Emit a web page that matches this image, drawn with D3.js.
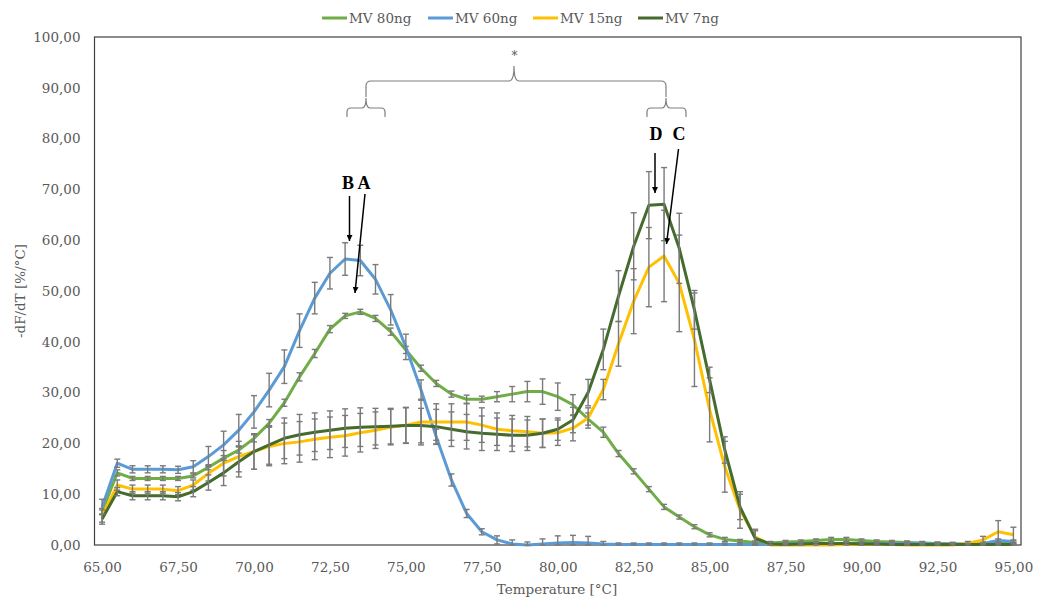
<!DOCTYPE html>
<html><head><meta charset="utf-8">
<script src="https://cdn.jsdelivr.net/npm/d3@7"></script>
<style>body{margin:0;background:#fff} svg{display:block}</style>
</head><body>
<svg id="c" width="1037" height="598"></svg>
<script>
const temperatures = [65.0,65.5,66.0,66.5,67.0,67.5,68.0,68.5,69.0,69.5,70.0,70.5,71.0,71.5,72.0,72.5,73.0,73.5,74.0,74.5,75.0,75.5,76.0,76.5,77.0,77.5,78.0,78.5,79.0,79.5,80.0,80.5,81.0,81.5,82.0,82.5,83.0,83.5,84.0,84.5,85.0,85.5,86.0,86.5,87.0,87.5,88.0,88.5,89.0,89.5,90.0,90.5,91.0,91.5,92.0,92.5,93.0,93.5,94.0,94.5,95.0];
const tickTemps = [65.0,67.5,70.0,72.5,75.0,77.5,80.0,82.5,85.0,87.5,90.0,92.5,95.0];
const tickLabelsX = ["65,00","67,50","70,00","72,50","75,00","77,50","80,00","82,50","85,00","87,50","90,00","92,50","95,00"];
const tickValuesY = [0,10,20,30,40,50,60,70,80,90,100];
const tickLabelsY = ["0,00","10,00","20,00","30,00","40,00","50,00","60,00","70,00","80,00","90,00","100,00"];
const seriesNames = ["MV 80ng","MV 60ng","MV 15ng","MV 7ng"];
const seriesColors = ["#70AD47","#5B9BD5","#FFC000","#456B2D"];

const mv80 = [6.6,14.2,13.1,13.1,13.1,13.1,13.6,15.3,17.1,18.7,21.0,24.0,28.0,33.1,37.7,42.5,45.1,45.9,44.6,42.0,38.4,34.8,31.8,29.7,28.7,28.7,29.2,29.7,30.2,30.2,29.2,27.6,24.8,22.2,18.0,14.5,11.0,7.5,5.5,3.6,2.0,1.1,0.8,0.5,0.4,0.6,0.7,0.9,1.1,1.1,0.9,0.7,0.6,0.5,0.4,0.3,0.2,0.1,0.2,0.6,0.5];
const mv80Err = [0.6,0.6,0.4,0.4,0.4,0.4,0.4,0.5,0.5,0.6,0.7,0.7,0.7,0.8,0.8,0.7,0.5,0.5,0.6,0.7,0.7,0.6,0.6,0.6,0.8,0.6,1.0,1.5,2.0,2.5,2.7,2.0,1.2,1.0,0.6,0.5,0.5,0.5,0.4,0.4,0.4,0.4,0.3,0.3,0.3,0.3,0.3,0.3,0.4,0.4,0.3,0.3,0.3,0.3,0.3,0.3,0.3,0.3,0.3,0.3,0.3];
const mv60 = [7.5,16.1,14.9,14.9,14.9,14.8,15.4,17.4,19.7,22.6,26.2,30.5,35.1,42.2,48.6,53.5,56.3,56.0,52.3,46.3,39.0,30.5,21.3,12.8,6.2,2.6,1.0,0.2,0.0,0.2,0.4,0.5,0.4,0.2,0.1,0.1,0.1,0.1,0.1,0.1,0.1,0.1,0.1,0.1,0.1,0.2,0.3,0.3,0.3,0.3,0.3,0.3,0.3,0.3,0.3,0.2,0.2,0.2,0.3,0.9,0.7];
const mv60Err = [1.5,0.8,0.7,0.7,0.7,0.7,1.2,2.0,2.7,3.1,3.2,3.3,3.3,3.3,3.1,3.1,3.2,3.0,2.9,3.0,2.5,2.0,1.5,1.2,0.8,0.6,0.8,0.8,0.6,1.0,1.4,1.4,1.3,0.5,0.3,0.3,0.3,0.3,0.3,0.3,0.3,0.3,0.3,0.3,0.3,0.3,0.3,0.3,0.3,0.3,0.3,0.3,0.3,0.3,0.3,0.3,0.3,0.3,0.3,0.3,0.3];
const mv15 = [5.7,11.8,11.0,11.0,11.0,10.7,11.8,14.1,16.1,17.4,18.4,19.4,20.0,20.3,20.8,21.2,21.5,22.1,22.6,23.2,23.6,24.2,24.2,24.2,24.2,23.6,22.8,22.5,22.3,22.0,22.1,23.0,25.0,30.6,39.6,48.0,54.7,56.9,51.5,40.4,26.6,15.4,6.9,1.6,0.0,0.0,0.0,0.0,0.0,0.1,0.1,0.1,0.1,0.0,0.0,0.0,0.0,0.3,1.0,2.6,2.0];
const mv15Err = [1.2,1.0,0.8,0.8,0.8,0.8,1.0,1.5,2.5,3.0,3.5,3.8,4.0,4.0,4.0,4.0,4.0,3.8,3.6,3.5,3.5,4.5,3.6,3.6,3.6,3.4,3.2,3.0,3.0,2.8,2.5,2.5,2.0,2.0,4.4,6.4,7.8,9.0,9.5,9.2,6.3,5.0,3.6,1.5,0.3,0.2,0.2,0.2,0.2,0.2,0.2,0.2,0.2,0.2,0.2,0.2,0.2,0.4,0.7,2.2,1.5];
const mv7 = [5.1,10.5,9.7,9.7,9.7,9.5,10.5,12.3,14.2,16.4,18.4,19.7,21.0,21.7,22.2,22.6,23.0,23.2,23.3,23.4,23.5,23.5,23.3,22.8,22.3,22.0,21.8,21.6,21.6,22.0,22.8,24.6,30.0,38.5,49.0,58.8,66.9,67.1,58.4,46.3,32.5,18.7,7.5,1.3,0.2,0.1,0.2,0.3,0.3,0.3,0.2,0.2,0.1,0.1,0.1,0.1,0.1,0.1,0.1,0.1,0.1];
const mv7Err = [1.0,0.8,0.8,0.8,0.8,0.8,1.0,1.5,2.5,3.0,3.5,3.8,4.0,4.0,3.8,3.8,3.8,3.8,3.6,3.5,3.5,3.4,3.4,3.4,3.4,3.4,3.2,3.2,3.0,2.8,2.2,2.5,2.6,4.0,5.0,6.6,6.6,7.2,6.9,3.8,2.5,2.6,2.5,1.5,0.3,0.2,0.2,0.2,0.2,0.2,0.2,0.2,0.2,0.2,0.2,0.2,0.2,0.2,0.2,0.2,0.2];

const seriesValues = [mv80, mv60, mv15, mv7];
const seriesErrors = [mv80Err, mv60Err, mv15Err, mv7Err];

const svg = d3.select("#c");
const font = "'DejaVu Serif', serif";
const L = 94.5, R = 1021, T = 37, B = 545;

const x = d3.scalePoint().domain(temperatures).range([L, R]).padding(0.5);
const y = d3.scaleLinear().domain([0, 100]).range([B, T]);

// axes
const yAxis = svg.append("g").attr("transform", `translate(${L},0)`)
  .call(d3.axisLeft(y).tickValues(tickValuesY).tickSize(0).tickPadding(14)
    .tickFormat((d, i) => tickLabelsY[i]));
yAxis.select(".domain").remove();
yAxis.selectAll("text").attr("font-family", font).attr("font-size", 13.5).attr("fill", "#595959");

const xAxis = svg.append("g").attr("transform", `translate(0,${B})`)
  .call(d3.axisBottom(x).tickValues(tickTemps).tickSize(0).tickPadding(17)
    .tickFormat((d, i) => tickLabelsX[i]));
xAxis.select(".domain").remove();
xAxis.selectAll("text").attr("font-family", font).attr("font-size", 13.5).attr("fill", "#595959");

// plot border
svg.append("rect").attr("x", L).attr("y", T).attr("width", R - L).attr("height", B - T)
  .attr("fill", "none").attr("stroke", "#404040").attr("stroke-width", 1.2);

// axis titles
svg.append("text").attr("x", 557).attr("y", 594).attr("text-anchor", "middle")
  .attr("font-family", font).attr("font-size", 13.5).attr("fill", "#595959").text("Temperature [°C]");
svg.append("text").attr("transform", "translate(25,291) rotate(-90)").attr("text-anchor", "middle")
  .attr("font-family", font).attr("font-size", 13.5).attr("fill", "#595959").text("-dF/dT [%/°C]");

// series
const line = d3.line().x((d, i) => x(temperatures[i])).y(d => y(d));
seriesValues.forEach((vals, s) => {
  svg.append("path").datum(vals).attr("d", line).attr("fill", "none")
    .attr("stroke", seriesColors[s]).attr("stroke-width", 3).attr("stroke-linejoin", "round");
  const g = svg.append("g").attr("stroke", "#7a7a7a").attr("stroke-width", 1.4);
  vals.forEach((v, i) => {
    const e = seriesErrors[s][i];
    const cx = x(temperatures[i]);
    const y1 = y(Math.min(100, v + e)), y0 = y(Math.max(0, v - e));
    g.append("line").attr("x1", cx).attr("x2", cx).attr("y1", y1).attr("y2", y0);
    g.append("line").attr("x1", cx - 3).attr("x2", cx + 3).attr("y1", y1).attr("y2", y1);
    g.append("line").attr("x1", cx - 3).attr("x2", cx + 3).attr("y1", y0).attr("y2", y0);
  });
});

// legend
const legendX = [322, 428, 533, 638];
seriesNames.forEach((n, s) => {
  svg.append("line").attr("x1", legendX[s]).attr("x2", legendX[s] + 25).attr("y1", 18).attr("y2", 18)
    .attr("stroke", seriesColors[s]).attr("stroke-width", 3);
  svg.append("text").attr("x", legendX[s] + 27).attr("y", 23).attr("font-family", font)
    .attr("font-size", 13.5).attr("fill", "#595959").text(n);
});

// annotations
const ann = svg.append("g").attr("font-family", "'Liberation Serif', serif").attr("font-weight", "bold")
  .attr("font-size", 18).attr("fill", "#000").attr("text-anchor", "middle");
[["B", 348, 189], ["A", 364, 189], ["D", 656, 140], ["C", 679, 140]].forEach(([t, tx, ty]) => {
  ann.append("text").attr("x", tx).attr("y", ty).text(t);
});
svg.append("defs").append("marker").attr("id", "ah").attr("viewBox", "0 0 10 10")
  .attr("refX", 10).attr("refY", 5).attr("markerWidth", 6).attr("markerHeight", 6)
  .attr("markerUnits", "userSpaceOnUse").attr("orient", "auto")
  .append("path").attr("d", "M0,0 L10,5 L0,10 Z").attr("fill", "#000");
[[349.5, 196, 349.5, 241], [365, 194, 355, 293], [655, 153, 655, 193], [678.5, 149, 666.5, 244]].forEach(([x1, y1, x2, y2]) => {
  svg.append("line").attr("x1", x1).attr("y1", y1).attr("x2", x2).attr("y2", y2)
    .attr("stroke", "#000").attr("stroke-width", 1.5).attr("marker-end", "url(#ah)");
});

// braces
const br = svg.append("g").attr("fill", "none").attr("stroke", "#7f7f7f").attr("stroke-width", 1.2);
br.append("path").attr("d", "M366,97 L366,86 Q366,81 371,81 L509,81 Q514,81 514,66 Q514,81 519,81 L661,81 Q666,81 666,86 L666,97");
br.append("path").attr("d", "M347,117 L347,112 Q347,108 351,108 L362,108 Q366,108 366,98 Q366,108 370,108 L381,108 Q385,108 385,112 L385,117");
br.append("path").attr("d", "M647,117 L647,112 Q647,108 651,108 L662,108 Q666,108 666,98 Q666,108 670,108 L682,108 Q686,108 686,112 L686,117");
svg.append("text").attr("x", 514.5).attr("y", 60).attr("text-anchor", "middle").attr("font-family", font)
  .attr("font-size", 12).attr("fill", "#595959").text("*");
</script>
</body></html>
